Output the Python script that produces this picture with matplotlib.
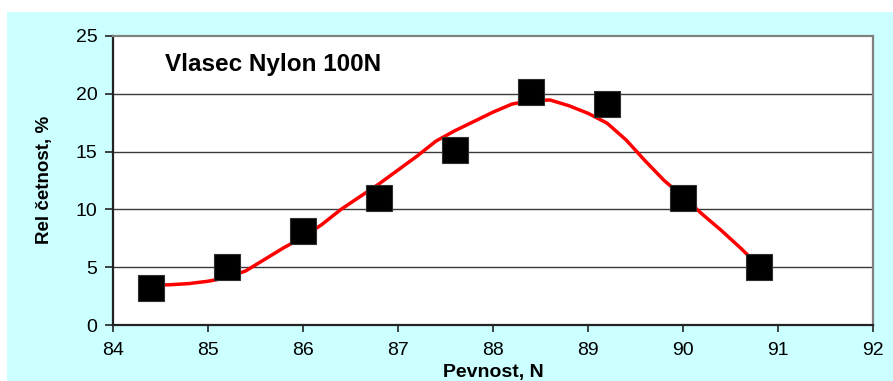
import matplotlib
matplotlib.use("Agg")
import matplotlib.pyplot as plt
from matplotlib.patches import Rectangle

plt.rcParams['font.family'] = ['Liberation Sans', 'DejaVu Sans']

# Measured relative frequencies
pevnost = [84.4, 85.2, 86.0, 86.8, 87.6, 88.4, 89.2, 90.0, 90.8]
cetnost = [3.2, 5.0, 8.1, 11.0, 15.1, 20.1, 19.1, 11.0, 5.0]

# Smoothed trend curve
trend_x = [84.4, 84.6, 84.8, 85.0, 85.2, 85.4, 85.6, 85.8, 86.0, 86.2, 86.4,
           86.6, 86.8, 87.0, 87.2, 87.4, 87.6, 87.8, 88.0, 88.2, 88.4, 88.6,
           88.8, 89.0, 89.2, 89.4, 89.6, 89.8, 90.0, 90.2, 90.4, 90.6, 90.8]
trend_y = [3.45, 3.5, 3.6, 3.8, 4.1, 4.7, 5.7, 6.7, 7.6, 8.7, 10.0,
           11.1, 12.2, 13.4, 14.6, 15.9, 16.8, 17.6, 18.4, 19.1, 19.4, 19.45,
           18.95, 18.3, 17.45, 16.0, 14.2, 12.5, 11.1, 9.6, 8.2, 6.7, 5.1]

x_ticks = [84, 85, 86, 87, 88, 89, 90, 91, 92]
y_ticks = [0, 5, 10, 15, 20, 25]

W, H = 893, 381
fig = plt.figure(figsize=(W / 100, H / 100), dpi=100)
fig.patch.set_facecolor('white')
fig.patches.append(Rectangle((7 / W, 0), 1 - 7 / W, 1 - 12 / H,
                             transform=fig.transFigure, facecolor='#CCFFFF',
                             edgecolor='none', zorder=-10))

left, right, top, bottom = 112.7, 873.3, 35.7, 325.3
ax = fig.add_axes([left / W, 1 - bottom / H, (right - left) / W, (bottom - top) / H])
ax.set_facecolor('white')

ax.set_xlim(84, 92)
ax.set_ylim(0, 25)
ax.set_xticks(x_ticks)
ax.set_yticks(y_ticks)
ax.set_xticklabels([str(v) for v in x_ticks])
ax.set_yticklabels([str(v) for v in y_ticks])

for yv in y_ticks[1:-1]:
    ax.axhline(yv, color='#3a3a3a', lw=1.0, zorder=1)

ax.plot(trend_x, trend_y, color='#FF0000', lw=2.5, solid_joinstyle='round',
        solid_capstyle='round', zorder=3)
ax.plot(pevnost, cetnost, linestyle='none', marker='s', markersize=18.5,
        markerfacecolor='black', markeredgecolor='#303030', markeredgewidth=0.8,
        zorder=4)

for side in ('left', 'bottom'):
    ax.spines[side].set_color('#222222')
    ax.spines[side].set_linewidth(1.6)
for side in ('top', 'right'):
    ax.spines[side].set_color('#808080')
    ax.spines[side].set_linewidth(1.6)

ax.tick_params(axis='y', direction='out', length=6, width=1.2, color='#222222',
               pad=5, labelsize=14)
ax.tick_params(axis='x', direction='out', length=5, width=1.2, color='#222222',
               pad=7, labelsize=14)

fig.text(165 / W, 1 - 70.7 / H, 'Vlasec Nylon 100N', fontsize=17.5,
         fontweight='bold', ha='left', va='baseline')
fig.text(493.5 / W, 1 - 377 / H, 'Pevnost, N', fontsize=14,
         fontweight='bold', ha='center', va='baseline')
fig.text(44 / W, 1 - 180 / H, 'Rel četnost, %', fontsize=13.5,
         fontweight='bold', ha='center', va='center', rotation=90)

fig.savefig('out.png', dpi=100)
